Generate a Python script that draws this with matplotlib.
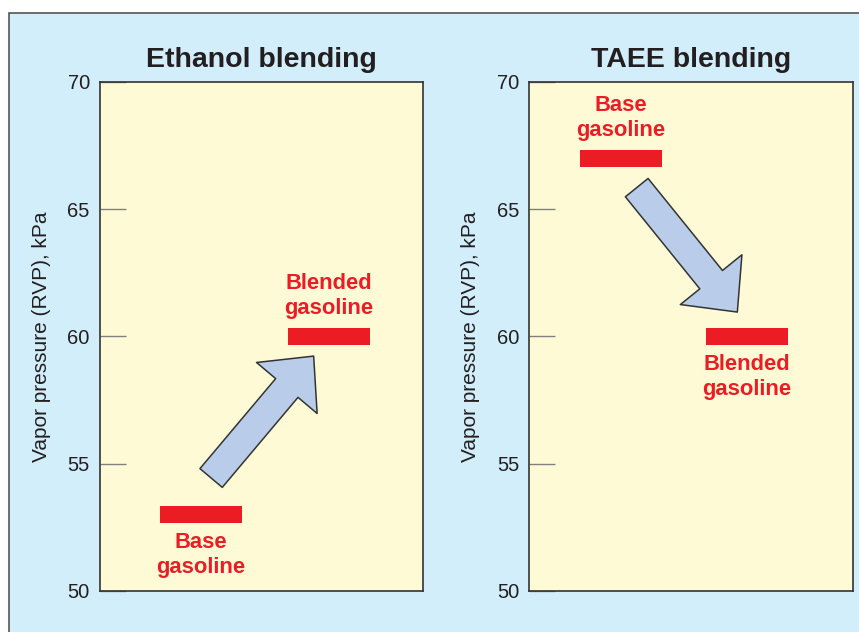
import matplotlib
matplotlib.use("Agg")
import matplotlib.pyplot as plt
from matplotlib.patches import Rectangle, FancyArrowPatch, ArrowStyle

plt.rcParams['font.family'] = ['Liberation Sans', 'DejaVu Sans']

# data
titles = ["Ethanol blending", "TAEE blending"]
base_rvp = [53.0, 67.0]
blended_rvp = [60.0, 60.0]
# horizontal placement of the markers (axes fraction, left edge)
base_x = [0.187, 0.158]
blended_x = [0.583, 0.547]
bar_w = 0.253
# label side: +1 above the bar, -1 below
base_side = [-1, 1]
blended_side = [1, -1]
# arrows: (x, rvp) tail -> tip
arrow_tail = [(0.345, 54.44), (0.333, 65.85)]
arrow_tip = [(0.662, 59.23), (0.644, 60.96)]
yticks = [50, 55, 60, 65, 70]

red = "#ec1c24"
dark = "#231f20"
panel_blue = "#d3eefb"
pale_yellow = "#fefad6"
arrow_blue = "#b9cdeb"

fig = plt.figure(figsize=(8.59, 6.32), dpi=100)
fig.patch.set_facecolor("white")
fig.patches.append(Rectangle((9 / 859, -0.02), 1.1, 1 - 13 / 632 + 0.02,
                             transform=fig.transFigure, facecolor=panel_blue,
                             edgecolor="#555555", linewidth=1.2, zorder=-5))

lefts = [99.5 / 859, 529 / 859]
for i in range(2):
    ax = fig.add_axes([lefts[i], 1 - 591 / 632, 323.5 / 859, 509 / 632])
    ax.set_facecolor(pale_yellow)
    ax.set_xlim(0, 1)
    ax.set_ylim(50, 70)
    ax.set_xticks([])
    ax.set_yticks(yticks)
    ax.tick_params(axis='y', direction='in', length=19, width=1, color="#808080",
                   labelsize=14.5, labelcolor=dark, pad=7)
    for s in ax.spines.values():
        s.set_color("#333333")
        s.set_linewidth(1.2)
    ax.set_ylabel("Vapor pressure (RVP), kPa", fontsize=15, color=dark, labelpad=12)
    ax.set_title(titles[i], fontsize=20.5, fontweight='bold', color=dark, pad=11)

    # markers
    ax.barh([base_rvp[i], blended_rvp[i]], bar_w, left=[base_x[i], blended_x[i]],
            height=0.66, color=red, zorder=3)

    ax.annotate("Base\ngasoline", (base_x[i] + bar_w / 2, base_rvp[i]),
                xytext=(0, 29 * base_side[i]), textcoords='offset points',
                ha='center', va='center', color=red, fontsize=15.8,
                fontweight='bold', linespacing=1.22)
    ax.annotate("Blended\ngasoline", (blended_x[i] + bar_w / 2, blended_rvp[i]),
                xytext=(0, 29 * blended_side[i]), textcoords='offset points',
                ha='center', va='center', color=red, fontsize=15.8,
                fontweight='bold', linespacing=1.22)

    arr = FancyArrowPatch(arrow_tail[i], arrow_tip[i],
                          arrowstyle=ArrowStyle("simple", head_length=30,
                                                head_width=57, tail_width=21),
                          mutation_scale=1, shrinkA=0, shrinkB=0,
                          facecolor=arrow_blue, edgecolor="#333333",
                          linewidth=1.1, zorder=4)
    ax.add_patch(arr)

fig.savefig("out.png", dpi=100)
